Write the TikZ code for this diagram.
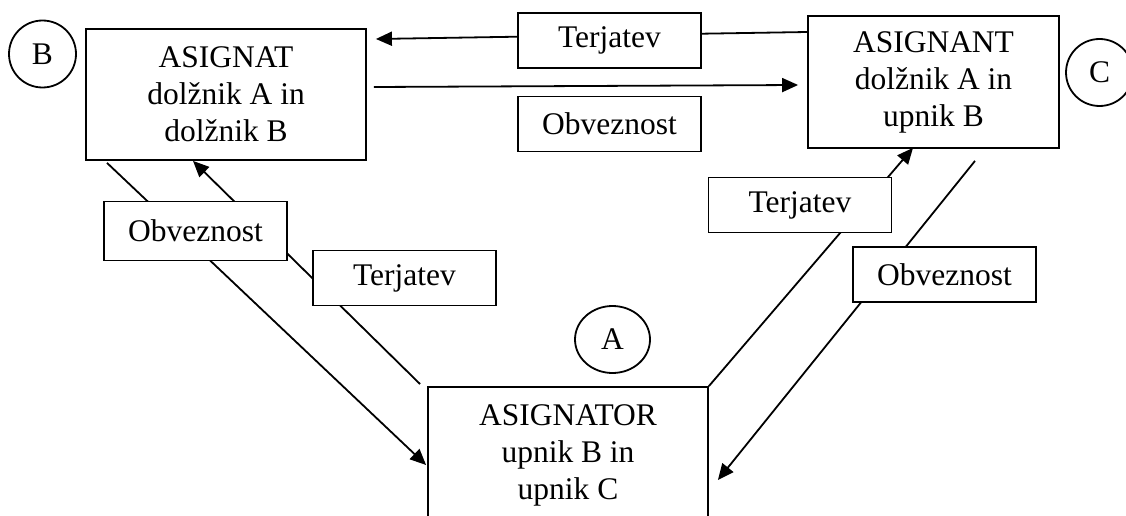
\documentclass[tikz,border=0pt]{standalone}
\usepackage{fontspec}
\setmainfont{Liberation Serif}
\usetikzlibrary{arrows.meta,shapes.geometric,backgrounds}

\begin{document}
\begin{tikzpicture}[x=1pt, y=-1pt, line width=1.8pt,
  >={Triangle[length=16pt,width=14pt]},
  party/.style={rectangle, draw, align=center, inner sep=0pt,
    font=\fontsize{31.5}{37}\selectfont},
  tag/.style={rectangle, draw, fill=white, minimum width=183pt,
    minimum height=55pt, inner sep=0pt, font=\fontsize{31.5}{37}\selectfont},
  ring/.style={ellipse, draw, minimum width=67pt, minimum height=67pt,
    inner sep=0pt, font=\fontsize{31.5}{37}\selectfont},
  flow/.style={->, line width=1.8pt}]
  \clip (0,0) rectangle (1126,516);

  % stranke
  \node[party, minimum width=280pt, minimum height=131pt] (asignat) at (226,94.5)
    {ASIGNAT\\dolžnik A in\\dolžnik B};
  \node[party, minimum width=251pt, minimum height=132pt] (asignant) at (933.5,82)
    {ASIGNANT\\dolžnik A in\\upnik B};
  \node[party, minimum width=280pt, minimum height=136pt] (asignator) at (568,455)
    {ASIGNATOR\\upnik B in\\upnik C};

  % krogi
  \node[ring] (ringB) at (42.5,54) {B};
  \node[ring] (ringC) at (1099.5,72.5) {C};
  \node[ring, minimum width=75pt] (ringA) at (612.5,339.5) {A};

  % oznake
  \node[tag] (terTop) at (609.5,40.5) {Terjatev};
  \node[tag] (obvTop) at (609.5,124) {Obveznost};
  \node[tag, minimum height=59pt] (obvLeft) at (195.5,231) {Obveznost};
  \node[tag] (terLeft) at (404.5,278) {Terjatev};
  \node[tag] (terRight) at (800,205) {Terjatev};
  \node[tag] (obvRight) at (944.5,274.5) {Obveznost};

  % puščice
  \begin{scope}[on background layer]
    \draw[flow] ([yshift=50pt]asignant.west) -- ([xshift=9pt,yshift=55.5pt]asignat.east);
    \draw[flow] ([xshift=7pt,yshift=7.5pt]asignat.east) -- ([xshift=-9pt,yshift=-3pt]asignant.west);
    \draw[flow] ([xshift=-119pt,yshift=-2pt]asignat.south) -- ([xshift=-1pt,yshift=-10pt]asignator.west);
    \draw[flow] ([xshift=-7pt,yshift=2pt]asignator.north west) -- ([xshift=-33pt]asignat.south);
    \draw[flow] (asignator.north east) -- ([xshift=-20.5pt,yshift=1pt]asignant.south);
    \draw[flow] ([xshift=41.5pt,yshift=-12pt]asignant.south) -- ([xshift=9pt,yshift=-25pt]asignator.east);
  \end{scope}
\end{tikzpicture}
\end{document}
